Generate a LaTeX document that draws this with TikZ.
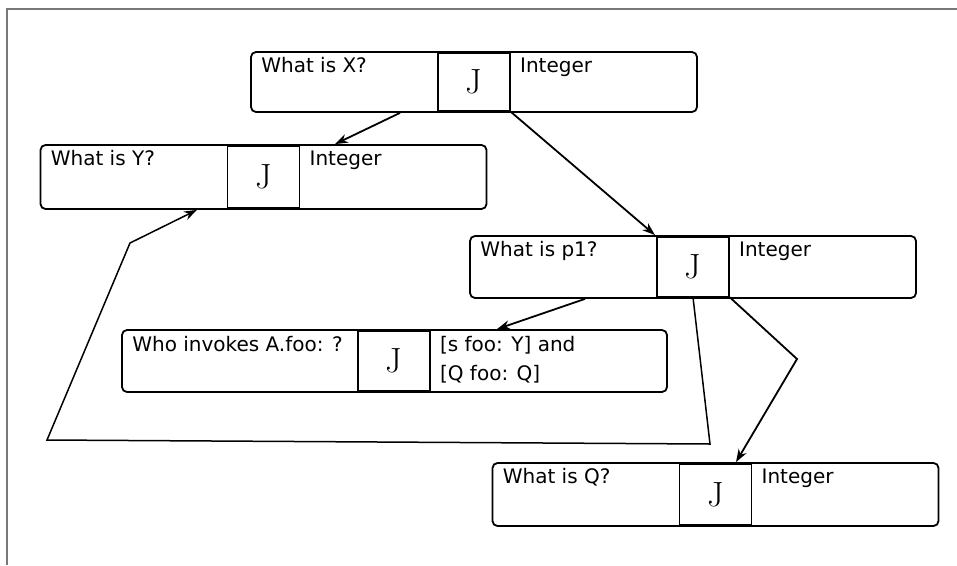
\documentclass[tikz,border=0pt]{standalone}
\usepackage{fontspec}
\newfontfamily\labelfont{DejaVu Sans}
\usetikzlibrary{arrows.meta,positioning,calc}
\definecolor{framegray}{RGB}{120,120,120}

\tikzset{
  card/.style={draw,rounded corners=5pt,line width=1.8pt,minimum width=446pt,minimum height=62pt,inner sep=0pt},
  jbox/.style={draw,line width=1.8pt,minimum width=72pt,minimum height=59pt,inner sep=0pt,font=\fontsize{35}{35}\selectfont},
  lbl/.style={anchor=base west,inner sep=0pt,font=\labelfont\fontsize{20}{29}\selectfont,align=left},
  link/.style={line width=1.8pt,-{Stealth[length=13pt,width=9pt]}},
}

\begin{document}
\begin{tikzpicture}[x=1pt,y=-1pt]
\useasboundingbox (0,0) rectangle (957,565);
\draw[framegray,line width=1.5pt] (7,565) -- (7,9) -- (957,9);

% X
\node[card,minimum height=60pt] (bx) at (474,82) {};
\node[jbox,minimum height=58pt] (jx) at (474,82) {J};
\node[lbl] (qx) at ([shift={(11,21)}]bx.north west) {What is X?};
\node[lbl] (tx) at ([shift={(9,20)}]jx.north east) {Integer};

% Y
\node[card,minimum height=64pt] (by) at (263.5,177) {};
\node[jbox,minimum height=61pt] (jy) at (263.5,177) {J};
\node[lbl] (qy) at ([shift={(11,21)}]by.north west) {What is Y?};
\node[lbl] (ty) at ([shift={(9,20)}]jy.north east) {Integer};

% p1
\node[card] (bp) at (693,267) {};
\node[jbox] (jp) at (693,267) {J};
\node[lbl] (qp) at ([shift={(11,21)}]bp.north west) {What is p1?};
\node[lbl] (tp) at ([shift={(9,20)}]jp.north east) {Integer};

% A.foo
\node[card,minimum width=545pt] (ba) at (394.5,361) {};
\node[jbox] (ja) at (394,361) {J};
\node[lbl] (qa) at ([shift={(11,22)}]ba.north west) {Who invokes A.foo: ?};
\node[lbl] (ta) at ([shift={(9,49.5)}]ja.north east) {[s foo: Y] and\\{}[Q foo: Q]};

% Q
\node[card,minimum height=63pt] (bq) at (715.5,494.5) {};
\node[jbox,minimum height=60pt] (jq) at (715.5,494.5) {J};
\node[lbl] (qq) at ([shift={(11,21)}]bq.north west) {What is Q?};
\node[lbl] (tq) at ([shift={(9,20)}]jq.north east) {Integer};

% links
\coordinate (r1) at (710,444);
\coordinate (r2) at (47,440);
\coordinate (r3) at (130,243);
\coordinate (k1) at (797,359);
\draw[link] ([xshift=-74pt]bx.south) -- ([xshift=71.5pt]by.north);
\draw[link] (jx.south east) -- ([xshift=-38pt]bp.north);
\draw[link] ([xshift=-108pt]bp.south) -- ([xshift=102.5pt]ba.north);
\draw[link,line width=1.5pt] (jp.south) -- (r1) -- (r2) -- (r3) -- ([xshift=-66.5pt]by.south);
\draw[link] (jp.south east) -- (k1) -- ([xshift=20.5pt]bq.north);
\end{tikzpicture}
\end{document}
